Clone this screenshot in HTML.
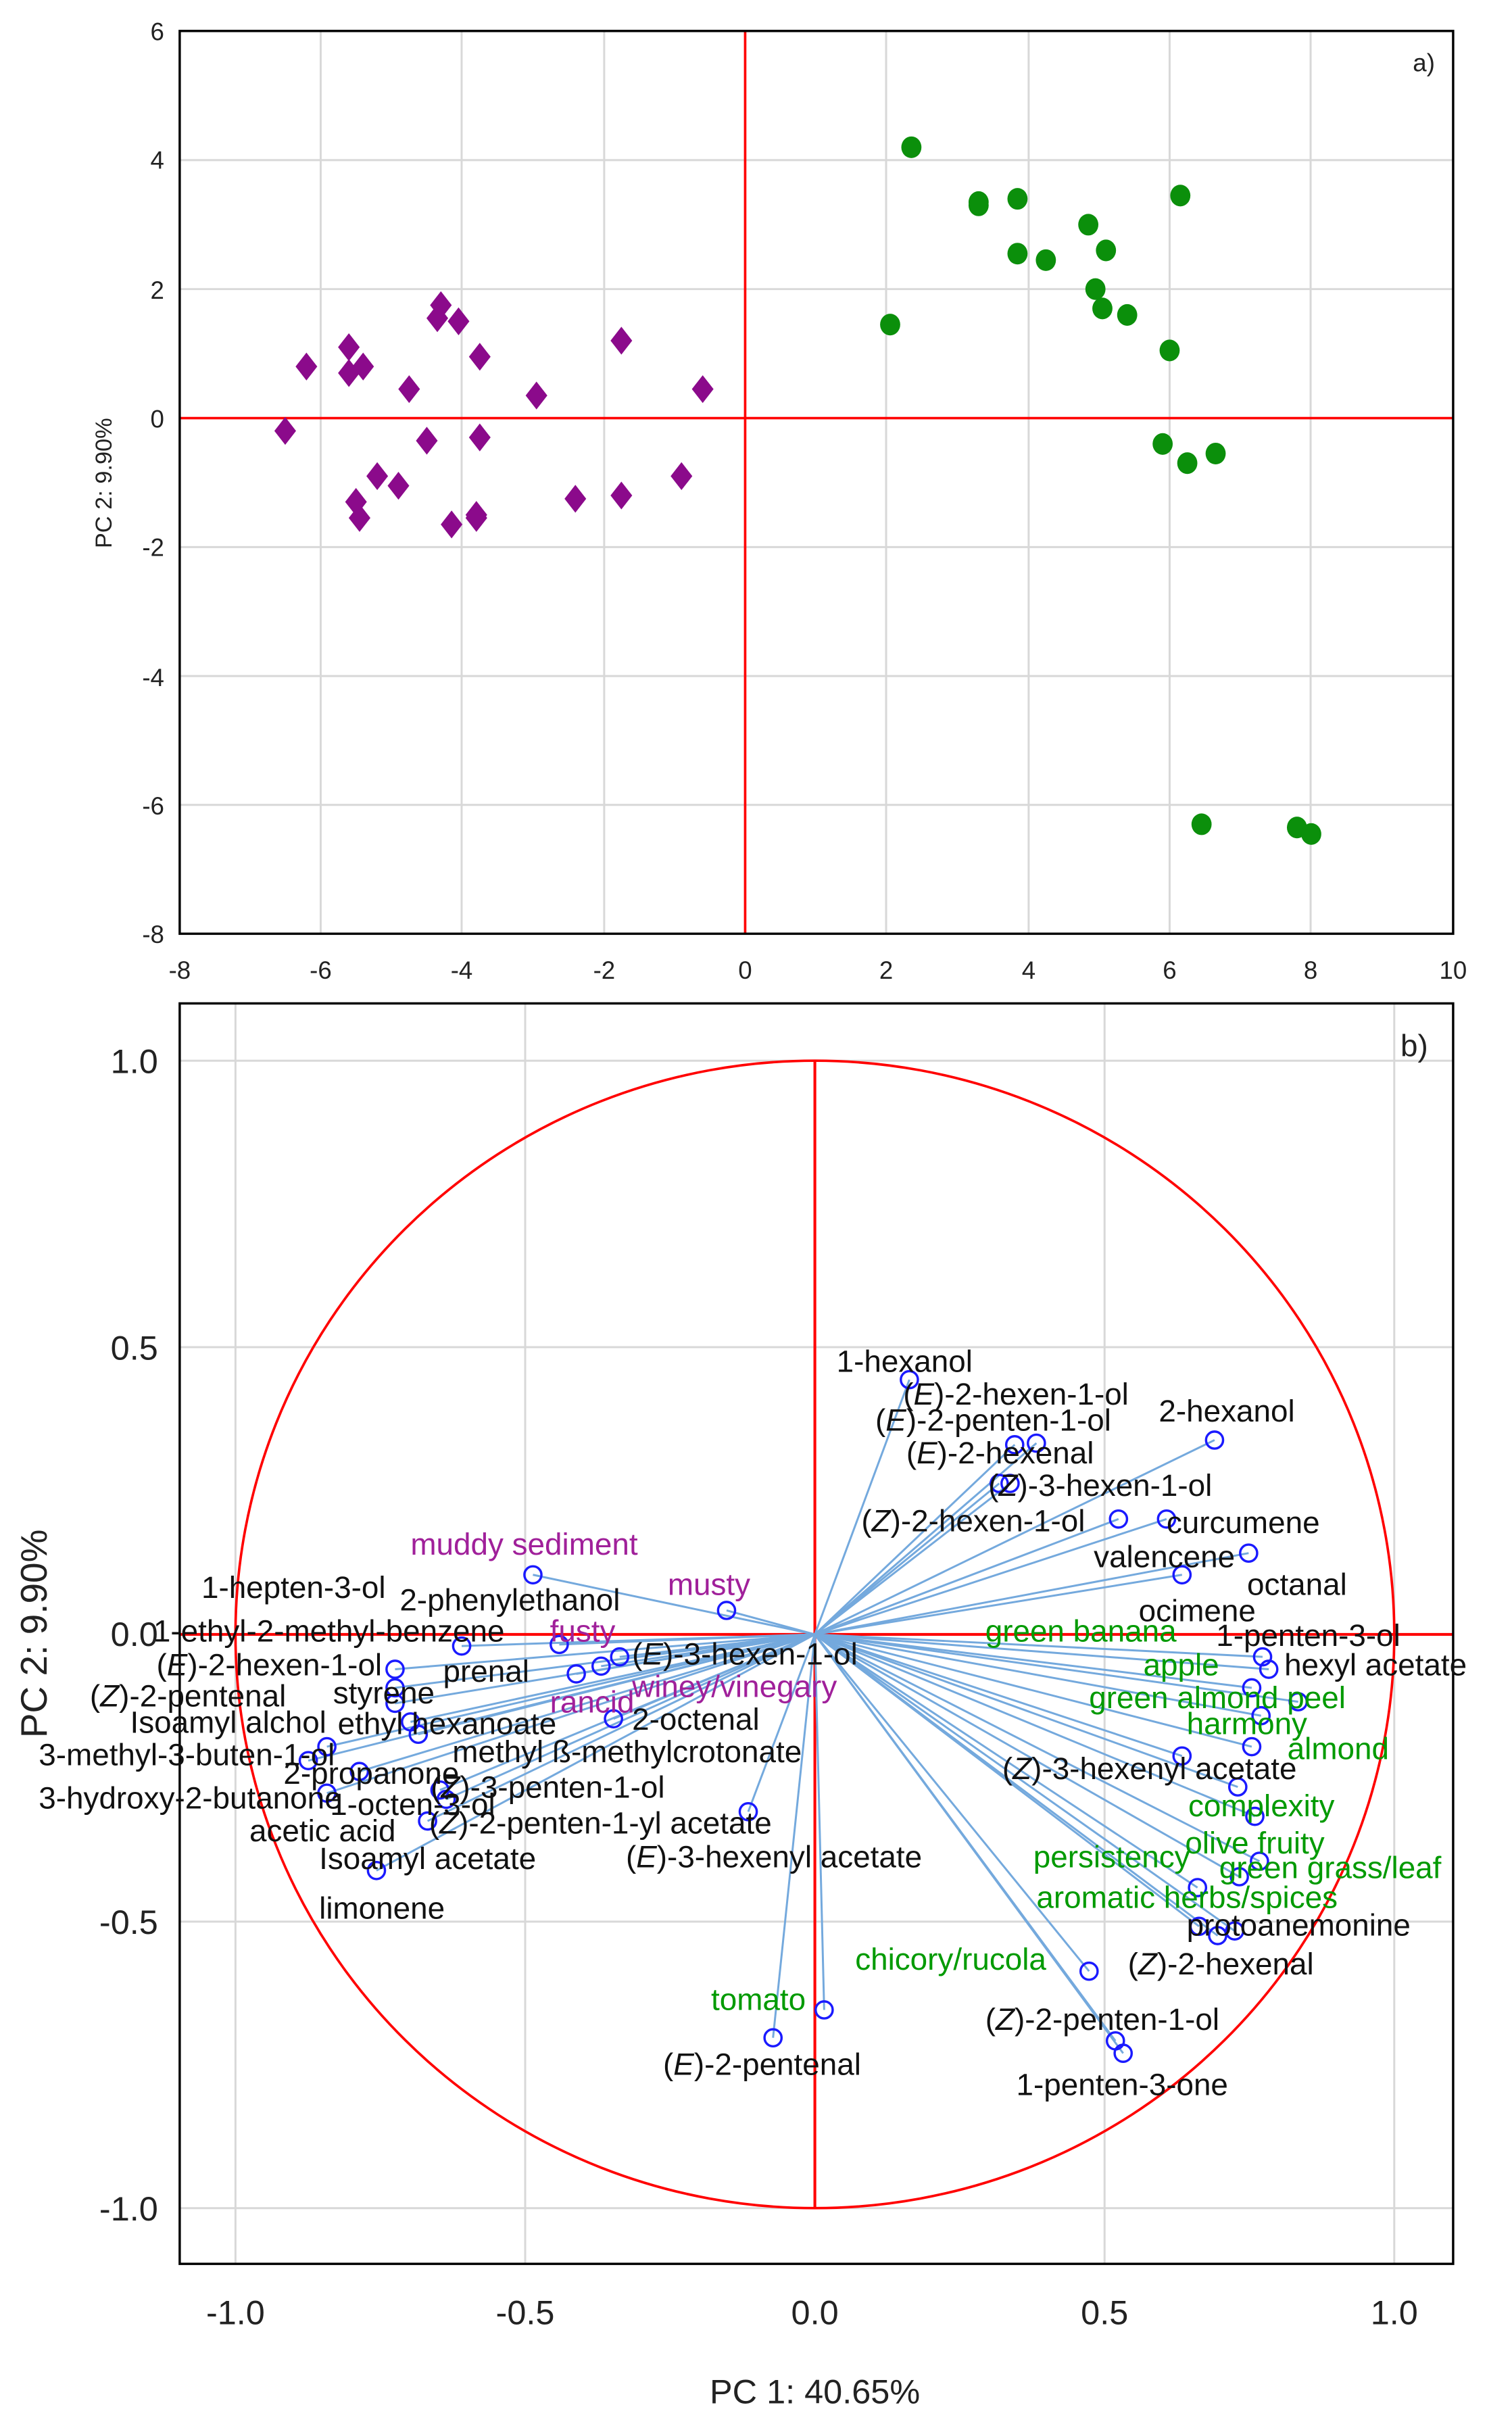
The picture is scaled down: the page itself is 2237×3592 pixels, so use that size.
<!DOCTYPE html>
<html><head><meta charset="utf-8"><style>
html,body{margin:0;padding:0;background:#fff;}
svg{display:block;}
text{font-family:"Liberation Sans",Arial,sans-serif;}
.t{font-size:20px;fill:#111;}
.g{font-size:20px;fill:#009a00;}
.p{font-size:20px;fill:#a0209a;}
</style></head><body>
<svg width="2237" height="3592" viewBox="0 0 976 1568" preserveAspectRatio="none" xmlns="http://www.w3.org/2000/svg">
<rect width="976" height="1568" fill="#fff"/>
<!-- Panel a -->
<g stroke="#d8d8d8" stroke-width="1.3">
<line x1="207" y1="20" x2="207" y2="603"/><line x1="298" y1="20" x2="298" y2="603"/><line x1="390" y1="20" x2="390" y2="603"/>
<line x1="572" y1="20" x2="572" y2="603"/><line x1="664" y1="20" x2="664" y2="603"/><line x1="755" y1="20" x2="755" y2="603"/><line x1="846" y1="20" x2="846" y2="603"/>
<line x1="116" y1="103.4" x2="938" y2="103.4"/><line x1="116" y1="186.7" x2="938" y2="186.7"/><line x1="116" y1="353.3" x2="938" y2="353.3"/>
<line x1="116" y1="436.6" x2="938" y2="436.6"/><line x1="116" y1="519.8" x2="938" y2="519.8"/>
</g>
<line x1="481" y1="20" x2="481" y2="603" stroke="#f00" stroke-width="1.6"/>
<line x1="116" y1="270" x2="938" y2="270" stroke="#f00" stroke-width="1.6"/>
<rect x="116" y="20" width="822" height="583" fill="none" stroke="#000" stroke-width="1.5"/>
<g font-size="16" fill="#222" text-anchor="end">
<text x="106" y="26">6</text><text x="106" y="109">4</text><text x="106" y="193">2</text><text x="106" y="276">0</text>
<text x="106" y="359">-2</text><text x="106" y="443">-4</text><text x="106" y="526">-6</text><text x="106" y="609">-8</text>
</g>
<g font-size="16" fill="#222" text-anchor="middle">
<text x="116" y="632">-8</text><text x="207" y="632">-6</text><text x="298" y="632">-4</text><text x="390" y="632">-2</text><text x="481" y="632">0</text>
<text x="572" y="632">2</text><text x="664" y="632">4</text><text x="755" y="632">6</text><text x="846" y="632">8</text><text x="938" y="632">10</text>
</g>
<text x="0" y="0" font-size="15" fill="#222" text-anchor="middle" transform="translate(72,312) rotate(-90)">PC 2:  9.90%</text>
<text x="912" y="46" font-size="16" fill="#222">a)</text>
<g fill="#8b0a8b">
<path d="M184.1,269.3l7,9l-7,9l-7,-9z"/><path d="M197.8,227.7l7,9l-7,9l-7,-9z"/><path d="M225.2,215.2l7,9l-7,9l-7,-9z"/>
<path d="M225.2,231.9l7,9l-7,9l-7,-9z"/><path d="M234.4,227.7l7,9l-7,9l-7,-9z"/><path d="M229.8,315.1l7,9l-7,9l-7,-9z"/>
<path d="M232.1,325.5l7,9l-7,9l-7,-9z"/><path d="M243.5,298.5l7,9l-7,9l-7,-9z"/><path d="M257.2,304.7l7,9l-7,9l-7,-9z"/>
<path d="M264.1,242.3l7,9l-7,9l-7,-9z"/><path d="M275.5,275.6l7,9l-7,9l-7,-9z"/><path d="M284.6,188.1l7,9l-7,9l-7,-9z"/>
<path d="M282.3,196.5l7,9l-7,9l-7,-9z"/><path d="M296.0,198.5l7,9l-7,9l-7,-9z"/><path d="M291.5,329.7l7,9l-7,9l-7,-9z"/>
<path d="M309.7,221.4l7,9l-7,9l-7,-9z"/><path d="M309.7,273.5l7,9l-7,9l-7,-9z"/><path d="M307.5,323.5l7,9l-7,9l-7,-9z"/>
<path d="M307.5,325.5l7,9l-7,9l-7,-9z"/><path d="M346.3,246.4l7,9l-7,9l-7,-9z"/><path d="M371.4,313.1l7,9l-7,9l-7,-9z"/>
<path d="M401.1,211.0l7,9l-7,9l-7,-9z"/><path d="M401.1,311.0l7,9l-7,9l-7,-9z"/><path d="M439.9,298.5l7,9l-7,9l-7,-9z"/>
<path d="M453.6,242.3l7,9l-7,9l-7,-9z"/>
</g>
<g fill="#0b8f0b">
<ellipse cx="588.3" cy="95.1" rx="6.5" ry="7"/><ellipse cx="574.6" cy="209.6" rx="6.5" ry="7"/><ellipse cx="631.7" cy="130.5" rx="6.5" ry="7"/>
<ellipse cx="631.7" cy="132.6" rx="6.5" ry="7"/><ellipse cx="656.8" cy="128.4" rx="6.5" ry="7"/><ellipse cx="656.8" cy="163.8" rx="6.5" ry="7"/>
<ellipse cx="675.1" cy="168.0" rx="6.5" ry="7"/><ellipse cx="702.5" cy="145.1" rx="6.5" ry="7"/><ellipse cx="707.1" cy="186.7" rx="6.5" ry="7"/>
<ellipse cx="713.9" cy="161.7" rx="6.5" ry="7"/><ellipse cx="711.6" cy="199.2" rx="6.5" ry="7"/><ellipse cx="727.6" cy="203.4" rx="6.5" ry="7"/>
<ellipse cx="761.9" cy="126.3" rx="6.5" ry="7"/><ellipse cx="755.0" cy="226.3" rx="6.5" ry="7"/><ellipse cx="750.5" cy="286.7" rx="6.5" ry="7"/>
<ellipse cx="766.4" cy="299.1" rx="6.5" ry="7"/><ellipse cx="784.7" cy="292.9" rx="6.5" ry="7"/><ellipse cx="775.6" cy="532.3" rx="6.5" ry="7"/>
<ellipse cx="837.2" cy="534.4" rx="6.5" ry="7"/><ellipse cx="846.4" cy="538.6" rx="6.5" ry="7"/>
</g>

<!-- Panel b -->
<g stroke="#d8d8d8" stroke-width="1.3">
<line x1="152" y1="648" x2="152" y2="1462"/><line x1="339" y1="648" x2="339" y2="1462"/><line x1="713" y1="648" x2="713" y2="1462"/><line x1="900" y1="648" x2="900" y2="1462"/>
<line x1="116" y1="685" x2="938" y2="685"/><line x1="116" y1="870" x2="938" y2="870"/><line x1="116" y1="1241" x2="938" y2="1241"/><line x1="116" y1="1426" x2="938" y2="1426"/>
</g>
<ellipse cx="526" cy="1055.5" rx="374" ry="370.5" fill="none" stroke="#f00" stroke-width="1.6"/>
<line x1="526" y1="685" x2="526" y2="1426" stroke="#f00" stroke-width="1.8"/>
<line x1="116" y1="1055.5" x2="938" y2="1055.5" stroke="#f00" stroke-width="1.8"/>
<g stroke="#74a9dd" stroke-width="1.3">
<line x1="526" y1="1055.5" x2="587" y2="891"/><line x1="526" y1="1055.5" x2="655" y2="933"/><line x1="526" y1="1055.5" x2="669" y2="932"/>
<line x1="526" y1="1055.5" x2="784" y2="930"/><line x1="526" y1="1055.5" x2="645" y2="958"/><line x1="526" y1="1055.5" x2="652" y2="958"/>
<line x1="526" y1="1055.5" x2="722" y2="981"/><line x1="526" y1="1055.5" x2="753" y2="981"/><line x1="526" y1="1055.5" x2="806" y2="1003"/>
<line x1="526" y1="1055.5" x2="763" y2="1017"/><line x1="526" y1="1055.5" x2="815" y2="1070"/><line x1="526" y1="1055.5" x2="819" y2="1078"/>
<line x1="526" y1="1055.5" x2="808" y2="1090"/><line x1="526" y1="1055.5" x2="838" y2="1099"/><line x1="526" y1="1055.5" x2="814" y2="1108"/>
<line x1="526" y1="1055.5" x2="808" y2="1128"/><line x1="526" y1="1055.5" x2="763" y2="1134"/><line x1="526" y1="1055.5" x2="799" y2="1154"/>
<line x1="526" y1="1055.5" x2="810" y2="1173"/><line x1="526" y1="1055.5" x2="813" y2="1202"/><line x1="526" y1="1055.5" x2="800" y2="1212"/>
<line x1="526" y1="1055.5" x2="773" y2="1219"/><line x1="526" y1="1055.5" x2="774" y2="1244"/><line x1="526" y1="1055.5" x2="786" y2="1250"/>
<line x1="526" y1="1055.5" x2="797" y2="1247"/><line x1="526" y1="1055.5" x2="703" y2="1273"/><line x1="526" y1="1055.5" x2="720" y2="1318"/>
<line x1="526" y1="1055.5" x2="725" y2="1326"/><line x1="526" y1="1055.5" x2="532" y2="1298"/><line x1="526" y1="1055.5" x2="499" y2="1316"/>
<line x1="526" y1="1055.5" x2="483" y2="1170"/>
<line x1="526" y1="1055.5" x2="344" y2="1017"/><line x1="526" y1="1055.5" x2="469" y2="1040"/><line x1="526" y1="1055.5" x2="361" y2="1062"/>
<line x1="526" y1="1055.5" x2="298" y2="1063"/><line x1="526" y1="1055.5" x2="388" y2="1076"/><line x1="526" y1="1055.5" x2="372" y2="1081"/>
<line x1="526" y1="1055.5" x2="400" y2="1070"/><line x1="526" y1="1055.5" x2="255" y2="1078"/><line x1="526" y1="1055.5" x2="255" y2="1090"/>
<line x1="526" y1="1055.5" x2="396" y2="1110"/><line x1="526" y1="1055.5" x2="255" y2="1100"/><line x1="526" y1="1055.5" x2="265" y2="1112"/>
<line x1="526" y1="1055.5" x2="270" y2="1120"/><line x1="526" y1="1055.5" x2="211" y2="1128"/><line x1="526" y1="1055.5" x2="199" y2="1137"/>
<line x1="526" y1="1055.5" x2="232" y2="1144"/><line x1="526" y1="1055.5" x2="284" y2="1156"/><line x1="526" y1="1055.5" x2="211" y2="1158"/>
<line x1="526" y1="1055.5" x2="288" y2="1162"/><line x1="526" y1="1055.5" x2="276" y2="1176"/><line x1="526" y1="1055.5" x2="243" y2="1208"/>
</g>
<g fill="none" stroke="#1a1aff" stroke-width="1.5">
<circle cx="587" cy="891" r="5.5"/><circle cx="655" cy="933" r="5.5"/><circle cx="669" cy="932" r="5.5"/><circle cx="784" cy="930" r="5.5"/>
<circle cx="645" cy="958" r="5.5"/><circle cx="652" cy="958" r="5.5"/><circle cx="722" cy="981" r="5.5"/><circle cx="753" cy="981" r="5.5"/>
<circle cx="806" cy="1003" r="5.5"/><circle cx="763" cy="1017" r="5.5"/><circle cx="815" cy="1070" r="5.5"/><circle cx="819" cy="1078" r="5.5"/>
<circle cx="808" cy="1090" r="5.5"/><circle cx="838" cy="1099" r="5.5"/><circle cx="814" cy="1108" r="5.5"/><circle cx="808" cy="1128" r="5.5"/>
<circle cx="763" cy="1134" r="5.5"/><circle cx="799" cy="1154" r="5.5"/><circle cx="810" cy="1173" r="5.5"/><circle cx="813" cy="1202" r="5.5"/>
<circle cx="800" cy="1212" r="5.5"/><circle cx="773" cy="1219" r="5.5"/><circle cx="774" cy="1244" r="5.5"/><circle cx="786" cy="1250" r="5.5"/>
<circle cx="797" cy="1247" r="5.5"/><circle cx="703" cy="1273" r="5.5"/><circle cx="720" cy="1318" r="5.5"/><circle cx="725" cy="1326" r="5.5"/>
<circle cx="532" cy="1298" r="5.5"/><circle cx="499" cy="1316" r="5.5"/><circle cx="483" cy="1170" r="5.5"/>
<circle cx="344" cy="1017" r="5.5"/><circle cx="469" cy="1040" r="5.5"/><circle cx="361" cy="1062" r="5.5"/><circle cx="298" cy="1063" r="5.5"/>
<circle cx="388" cy="1076" r="5.5"/><circle cx="372" cy="1081" r="5.5"/><circle cx="400" cy="1070" r="5.5"/><circle cx="255" cy="1078" r="5.5"/>
<circle cx="255" cy="1090" r="5.5"/><circle cx="396" cy="1110" r="5.5"/><circle cx="255" cy="1100" r="5.5"/><circle cx="265" cy="1112" r="5.5"/>
<circle cx="270" cy="1120" r="5.5"/><circle cx="211" cy="1128" r="5.5"/><circle cx="199" cy="1137" r="5.5"/><circle cx="232" cy="1144" r="5.5"/>
<circle cx="284" cy="1156" r="5.5"/><circle cx="211" cy="1158" r="5.5"/><circle cx="288" cy="1162" r="5.5"/><circle cx="276" cy="1176" r="5.5"/>
<circle cx="243" cy="1208" r="5.5"/>
</g>
<rect x="116" y="648" width="822" height="814" fill="none" stroke="#000" stroke-width="1.5"/>
<g font-size="22" fill="#222" text-anchor="end">
<text x="102" y="693">1.0</text><text x="102" y="878">0.5</text><text x="102" y="1063">0.0</text><text x="102" y="1249">-0.5</text><text x="102" y="1434">-1.0</text>
</g>
<g font-size="22" fill="#222" text-anchor="middle">
<text x="152" y="1501">-1.0</text><text x="339" y="1501">-0.5</text><text x="526" y="1501">0.0</text><text x="713" y="1501">0.5</text><text x="900" y="1501">1.0</text>
<text x="526" y="1552">PC 1: 40.65%</text>
</g>
<text x="0" y="0" font-size="24" fill="#222" text-anchor="middle" transform="translate(30,1055) rotate(-90)">PC 2: 9.90%</text>
<text x="904" y="682" font-size="20" fill="#222">b)</text>
<g class="t">
<text class="t" x="540" y="886">1-hexanol</text>
<text class="t" x="583" y="907">(<tspan font-style="italic">E</tspan>)-2-hexen-1-ol</text>
<text class="t" x="565" y="924">(<tspan font-style="italic">E</tspan>)-2-penten-1-ol</text>
<text class="t" x="748" y="918">2-hexanol</text>
<text class="t" x="585" y="945">(<tspan font-style="italic">E</tspan>)-2-hexenal</text>
<text class="t" x="638" y="966">(<tspan font-style="italic">Z</tspan>)-3-hexen-1-ol</text>
<text class="t" x="556" y="989">(<tspan font-style="italic">Z</tspan>)-2-hexen-1-ol</text>
<text class="t" x="753" y="990">curcumene</text>
<text class="t" x="706" y="1012">valencene</text>
<text class="t" x="805" y="1030">octanal</text>
<text class="t" x="735" y="1047">ocimene</text>
<text class="t" x="785" y="1063">1-penten-3-ol</text>
<text class="t" x="829" y="1082">hexyl acetate</text>
<text class="t" x="647" y="1149">(<tspan font-style="italic">Z</tspan>)-3-hexenyl acetate</text>
<text class="t" x="766" y="1250">protoanemonine</text>
<text class="t" x="728" y="1275">(<tspan font-style="italic">Z</tspan>)-2-hexenal</text>
<text class="t" x="636" y="1311">(<tspan font-style="italic">Z</tspan>)-2-penten-1-ol</text>
<text class="t" x="656" y="1353">1-penten-3-one</text>
<text class="t" x="428" y="1340">(<tspan font-style="italic">E</tspan>)-2-pentenal</text>
<text class="t" x="404" y="1206">(<tspan font-style="italic">E</tspan>)-3-hexenyl acetate</text>
<text class="t" x="130" y="1032">1-hepten-3-ol</text>
<text class="t" x="258" y="1040">2-phenylethanol</text>
<text class="t" x="99" y="1060">1-ethyl-2-methyl-benzene</text>
<text class="t" x="286" y="1086">prenal</text>
<text class="t" x="408" y="1075">(<tspan font-style="italic">E</tspan>)-3-hexen-1-ol</text>
<text class="t" x="101" y="1082">(<tspan font-style="italic">E</tspan>)-2-hexen-1-ol</text>
<text class="t" x="215" y="1100">styrene</text>
<text class="t" x="58" y="1102">(<tspan font-style="italic">Z</tspan>)-2-pentenal</text>
<text class="t" x="408" y="1117">2-octenal</text>
<text class="t" x="84" y="1119">Isoamyl alchol</text>
<text class="t" x="218" y="1120">ethyl hexanoate</text>
<text class="t" x="292" y="1138">methyl ß-methylcrotonate</text>
<text class="t" x="25" y="1140">3-methyl-3-buten-1-ol</text>
<text class="t" x="183" y="1152">2-propanone</text>
<text class="t" x="278" y="1161">(<tspan font-style="italic">Z</tspan>)-3-penten-1-ol</text>
<text class="t" x="25" y="1168">3-hydroxy-2-butanone</text>
<text class="t" x="213" y="1172">1-octen-3-ol</text>
<text class="t" x="277" y="1184">(<tspan font-style="italic">Z</tspan>)-2-penten-1-yl acetate</text>
<text class="t" x="161" y="1189">acetic acid</text>
<text class="t" x="206" y="1207">Isoamyl acetate</text>
<text class="t" x="206" y="1239">limonene</text>
</g>
<text class="g" x="636" y="1060">green banana</text>
<text class="g" x="738" y="1082">apple</text>
<text class="g" x="703" y="1103">green almond peel</text>
<text class="g" x="766" y="1120">harmony</text>
<text class="g" x="831" y="1136">almond</text>
<text class="g" x="767" y="1173">complexity</text>
<text class="g" x="765" y="1197">olive fruity</text>
<text class="g" x="667" y="1206">persistency</text>
<text class="g" x="787" y="1213">green grass/leaf</text>
<text class="g" x="669" y="1232">aromatic herbs/spices</text>
<text class="g" x="552" y="1272">chicory/rucola</text>
<text class="g" x="459" y="1298">tomato</text>
<text class="p" x="265" y="1004">muddy sediment</text>
<text class="p" x="431" y="1030">musty</text>
<text class="p" x="355" y="1060">fusty</text>
<text class="p" x="408" y="1096">winey/vinegary</text>
<text class="p" x="355" y="1106">rancid</text>
</svg>
</body></html>
